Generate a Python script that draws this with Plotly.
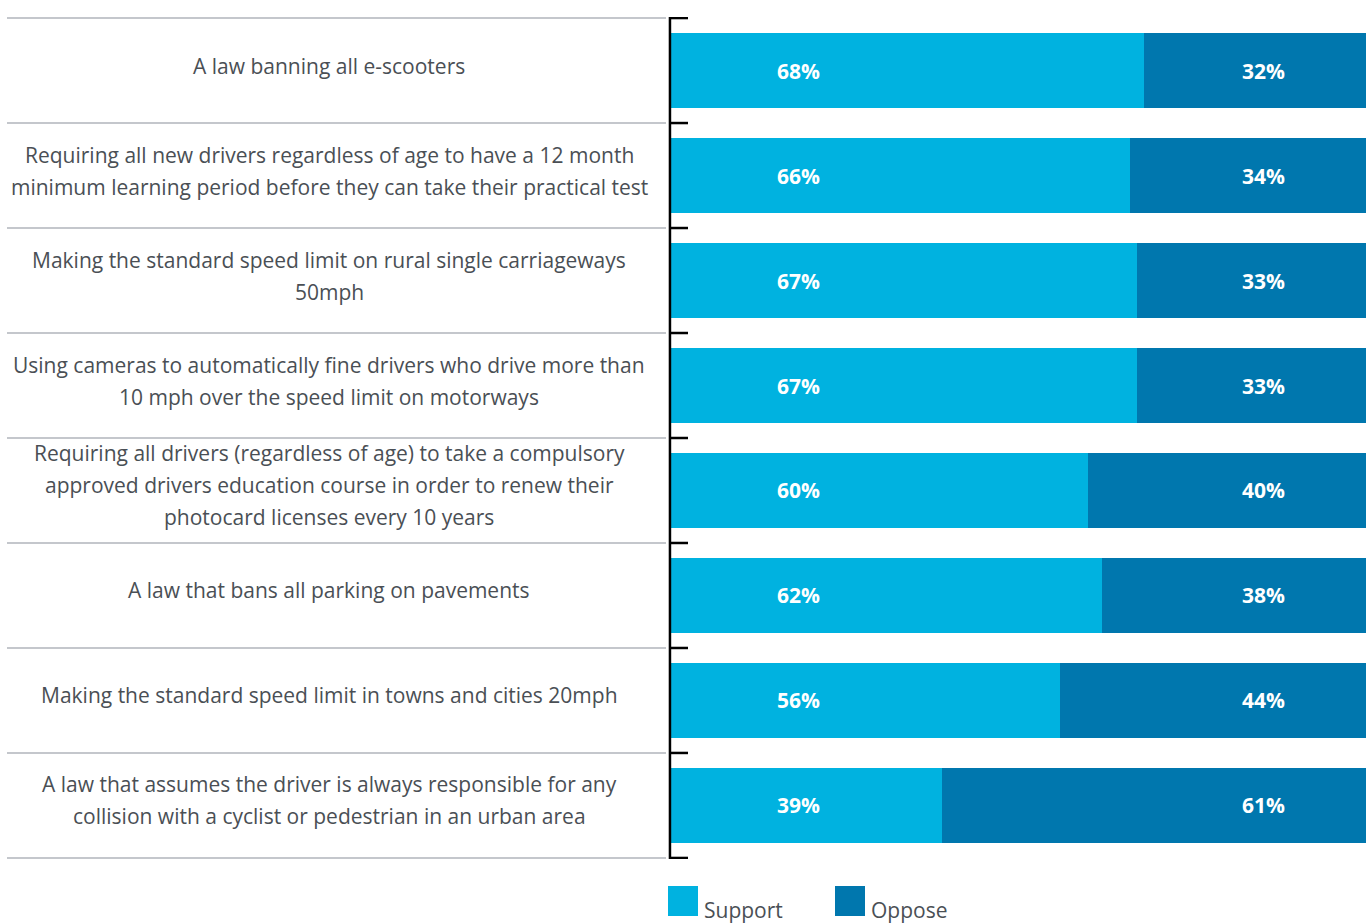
import plotly.graph_objects as go

categories = [
    "A law banning all e-scooters",
    "Requiring all new drivers regardless of age to have a 12 month<br>minimum learning period before they can take their practical test",
    "Making the standard speed limit on rural single carriageways<br>50mph",
    "Using cameras to automatically fine drivers who drive more than<br>10 mph over the speed limit on motorways",
    "Requiring all drivers (regardless of age) to take a compulsory<br>approved drivers education course in order to renew their<br>photocard licenses every 10 years",
    "A law that bans all parking on pavements",
    "Making the standard speed limit in towns and cities 20mph",
    "A law that assumes the driver is always responsible for any<br>collision with a cyclist or pedestrian in an urban area",
]
support = [68, 66, 67, 67, 60, 62, 56, 39]
oppose = [32, 34, 33, 33, 40, 38, 44, 61]
series_names = ["Support", "Oppose"]

SUPPORT_COLOR = "#00b2e0"
OPPOSE_COLOR = "#0077ae"
TEXT_COLOR = "#4a4f55"

idx = list(range(len(categories)))
n_cat = len(categories)

fig = go.Figure()
fig.add_trace(go.Bar(y=idx, x=support, orientation="h", name=series_names[0],
                     marker=dict(color=SUPPORT_COLOR, line=dict(width=0)), hoverinfo="x"))
fig.add_trace(go.Bar(y=idx, x=oppose, orientation="h", name=series_names[1],
                     marker=dict(color=OPPOSE_COLOR, line=dict(width=0)), hoverinfo="x"))

annotations = []
shapes = []
LINE_H = 32
for i, cat in enumerate(categories):
    lines = cat.split("<br>")
    n = len(lines)
    for k, ln in enumerate(lines):
        annotations.append(dict(
            x=-0.492, xref="paper", y=i, yref="y", text=ln, showarrow=False,
            xanchor="center", yanchor="middle",
            yshift=((n - 1) / 2 - k) * LINE_H + 5,
            font=dict(family="Open Sans", size=21, color=TEXT_COLOR)))
    annotations.append(dict(x=18.3, xref="x", y=i, yref="y", text=f"{support[i]}%",
                            showarrow=False, xanchor="center", yanchor="middle",
                            font=dict(family="Open Sans", size=21, color="white", weight="bold")))
    annotations.append(dict(x=85.3, xref="x", y=i, yref="y", text=f"{oppose[i]}%",
                            showarrow=False, xanchor="center", yanchor="middle",
                            font=dict(family="Open Sans", size=21, color="white", weight="bold")))

# row separators on the left, ticks on the axis
for b in range(n_cat + 1):
    shapes.append(dict(type="line", xref="paper", yref="y",
                       x0=-0.9554, x1=-0.0072, y0=b - 0.5, y1=b - 0.5,
                       line=dict(color="#b0b5bb", width=1.5)))
    shapes.append(dict(type="line", xref="paper", yref="y",
                       x0=0, x1=17 / 695, y0=b - 0.5, y1=b - 0.5,
                       line=dict(color="black", width=2.5)))
# axis line
shapes.append(dict(type="line", xref="paper", yref="y", x0=-0.0015, x1=-0.0015,
                   y0=-0.53, y1=n_cat - 0.5 + 0.03, line=dict(color="black", width=2.5)))

# custom legend
PLOT_TOP, PLOT_BOT = 17, 859
PH = PLOT_BOT - PLOT_TOP
legend_items = [(series_names[0], SUPPORT_COLOR, 668), (series_names[1], OPPOSE_COLOR, 835)]
for name, col, px in legend_items:
    x0 = (px - 671) / 695
    x1 = (px + 30 - 671) / 695
    shapes.append(dict(type="rect", xref="paper", yref="paper",
                       x0=x0, x1=x1, y0=(PLOT_BOT - 886) / PH, y1=(PLOT_BOT - 916) / PH,
                       fillcolor=col, line=dict(width=0)))
    annotations.append(dict(x=(px + 34 - 671) / 695, xref="paper", y=(PLOT_BOT - 910) / PH,
                            yref="paper", text=name, showarrow=False,
                            xanchor="left", yanchor="middle",
                            font=dict(family="Open Sans", size=21, color=TEXT_COLOR)))

fig.update_layout(
    barmode="stack",
    bargap=0.28,
    width=1370, height=923,
    margin=dict(l=671, r=4, t=PLOT_TOP, b=923 - PLOT_BOT),
    paper_bgcolor="white", plot_bgcolor="white",
    showlegend=False,
    xaxis=dict(range=[0, 100], visible=False, fixedrange=True),
    yaxis=dict(range=[n_cat - 0.5 + 0.01, -0.51], visible=False, fixedrange=True),
    annotations=annotations,
    shapes=shapes,
)

fig.write_html("out.html")
